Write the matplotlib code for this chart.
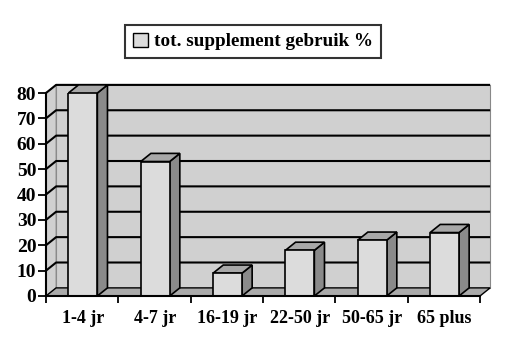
import matplotlib.pyplot as plt
from matplotlib.patches import Polygon, Patch

# data
categories = ["1-4 jr", "4-7 jr", "16-19 jr", "22-50 jr", "50-65 jr", "65 plus"]
values = [80, 53, 9, 18, 22, 25]
yticks = [0, 10, 20, 30, 40, 50, 60, 70, 80]
series_name = "tot. supplement gebruik %"

plt.rcParams['font.family'] = ['Liberation Serif', 'DejaVu Serif']
plt.rcParams['font.weight'] = 'bold'

fig = plt.figure(figsize=(5.07, 3.41), dpi=100)
ax = fig.add_axes([46/507, 45/341, 434/507, 203/341])

n = len(categories)
ymax = 80
dx = 0.14   # depth offset in category units
dy = 3.2    # depth offset in value units
w = 0.4

wall = "#d0d0d0"
floor = "#aaaaaa"
front = "#dcdcdc"
side = "#8a8a8a"
top = "#a8a8a8"

# back wall, side wall and floor
ax.add_patch(Polygon([(dx, dy), (n + dx, dy), (n + dx, ymax + dy), (dx, ymax + dy)],
                     facecolor=wall, edgecolor="#888888", lw=0.8, zorder=1, clip_on=False))
ax.add_patch(Polygon([(0, 0), (dx, dy), (dx, ymax + dy), (0, ymax)],
                     facecolor=wall, edgecolor="#888888", lw=0.8, zorder=1, clip_on=False))
ax.add_patch(Polygon([(0, 0), (n, 0), (n + dx, dy), (dx, dy)],
                     facecolor=floor, edgecolor="black", lw=1.0, zorder=2, clip_on=False))

# gridlines on the walls
for v in yticks[1:]:
    ax.plot([0, dx, n + dx], [v, v + dy, v + dy], color="black", lw=1.5,
            zorder=2, clip_on=False, solid_capstyle='butt')

# bars
xs = [i + 0.51 for i in range(n)]
ax.bar(xs, values, width=w, color=front, edgecolor="black", linewidth=1.2, zorder=5)
for x, v in zip(xs, values):
    r = x + w / 2
    l = x - w / 2
    ax.add_patch(Polygon([(r, 0), (r + dx, dy), (r + dx, v + dy), (r, v)],
                         facecolor=side, edgecolor="black", lw=1.2, zorder=4, clip_on=False))
    ax.add_patch(Polygon([(l, v), (r, v), (r + dx, v + dy), (l + dx, v + dy)],
                         facecolor=top, edgecolor="black", lw=1.2, zorder=4, clip_on=False))

ax.set_xlim(0, n)
ax.set_ylim(0, ymax)
ax.set_yticks(yticks)
ax.set_yticklabels([str(t) for t in yticks], fontsize=14, fontweight='bold')
ax.set_xticks(range(n + 1))
ax.set_xticklabels([])
ax.set_xticks(xs, minor=True)
ax.set_xticklabels(categories, minor=True, fontsize=13, fontweight='bold')
ax.tick_params(axis='x', which='minor', length=0, pad=10)
ax.tick_params(axis='x', which='major', length=5, width=1.3, direction='out')
ax.tick_params(axis='y', length=6, width=1.3, direction='out', pad=1)

for s in ['top', 'right']:
    ax.spines[s].set_visible(False)
for s in ['left', 'bottom']:
    ax.spines[s].set_linewidth(1.5)
    ax.spines[s].set_zorder(6)

handle = Patch(facecolor=front, edgecolor="black", linewidth=1.0)
leg = fig.legend([handle], [series_name], loc='center',
                 bbox_to_anchor=(253/507, 1 - 41.5/341), fancybox=False,
                 edgecolor='black', handlelength=0.8, handleheight=0.8,
                 handletextpad=0.3, borderpad=0.4,
                 prop={'size': 13.8, 'weight': 'bold'})
leg.get_frame().set_linewidth(1.5)

fig.savefig("out.png", dpi=100)
